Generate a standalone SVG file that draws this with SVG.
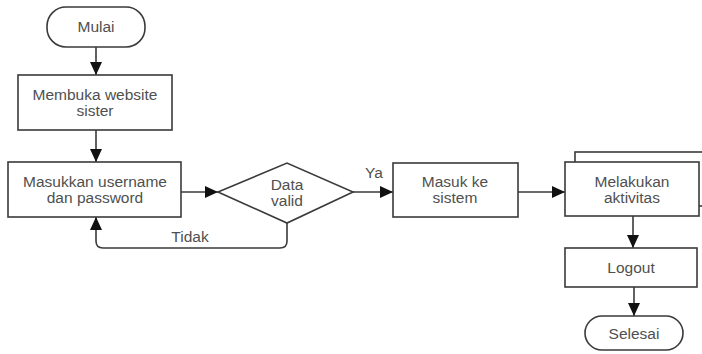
<svg xmlns="http://www.w3.org/2000/svg" width="702" height="354" viewBox="0 0 702 354">
<defs>
<style>
.s{fill:#fff;stroke:#3a3a3a;stroke-width:1.6}
.t{font-family:"Liberation Sans",Arial,sans-serif;font-size:15.5px;fill:#505050;text-anchor:middle}
.c{fill:none;stroke:#3a3a3a;stroke-width:1.6}
</style>
<marker id="ah" markerWidth="13" markerHeight="12" viewBox="0 0 13 12" refX="13" refY="6" orient="auto" markerUnits="userSpaceOnUse">
<path d="M0,0 L13,6 L0,12 z" fill="#111"/>
</marker>
</defs>
<rect width="702" height="354" fill="#fff"/>
<g id="connectors">
<path class="c" d="M96,47 V75" marker-end="url(#ah)"/>
<path class="c" d="M96,130 V162" marker-end="url(#ah)"/>
<path class="c" d="M181,192 H218" marker-end="url(#ah)"/>
<path class="c" d="M353,192 H393" marker-end="url(#ah)"/>
<path class="c" d="M518,192 H565" marker-end="url(#ah)"/>
<path class="c" d="M633,216 V248" marker-end="url(#ah)"/>
<path class="c" d="M634,287 V316" marker-end="url(#ah)"/>
<path class="c" d="M287,223 V241 Q287,248 280,248 H103 Q96,248 96,241 V217" marker-end="url(#ah)"/>
<text class="t" x="190" y="242">Tidak</text>
<text class="t" x="374" y="178">Ya</text>
</g>
<g id="mulai">
<rect class="s" x="47" y="7" width="98" height="40" rx="19"/>
<text class="t" x="96" y="32">Mulai</text>
</g>
<g id="membuka">
<rect class="s" x="18" y="75" width="154" height="55"/>
<text class="t" x="95" y="100">Membuka website</text>
<text class="t" x="95" y="116">sister</text>
</g>
<g id="masukkan">
<rect class="s" x="8" y="162" width="173" height="55"/>
<text class="t" x="95" y="187">Masukkan username</text>
<text class="t" x="95" y="203">dan password</text>
</g>
<g id="datavalid">
<polygon class="s" points="218,192 287,163 353,192 287,223"/>
<text class="t" x="287" y="190">Data</text>
<text class="t" x="287" y="206">valid</text>
</g>
<g id="masuk">
<rect class="s" x="393" y="163" width="125" height="54"/>
<text class="t" x="455" y="187">Masuk ke</text>
<text class="t" x="455" y="203">sistem</text>
</g>
<g id="melakukan">
<rect class="s" x="575" y="152" width="130" height="54"/>
<rect class="s" x="565" y="162" width="134" height="54"/>
<text class="t" x="632" y="187">Melakukan</text>
<text class="t" x="632" y="203">aktivitas</text>
</g>
<g id="logout">
<rect class="s" x="565" y="248" width="132" height="39"/>
<text class="t" x="631" y="273">Logout</text>
</g>
<g id="selesai">
<rect class="s" x="585" y="316" width="98" height="34" rx="17"/>
<text class="t" x="634" y="339">Selesai</text>
</g>
</svg>
